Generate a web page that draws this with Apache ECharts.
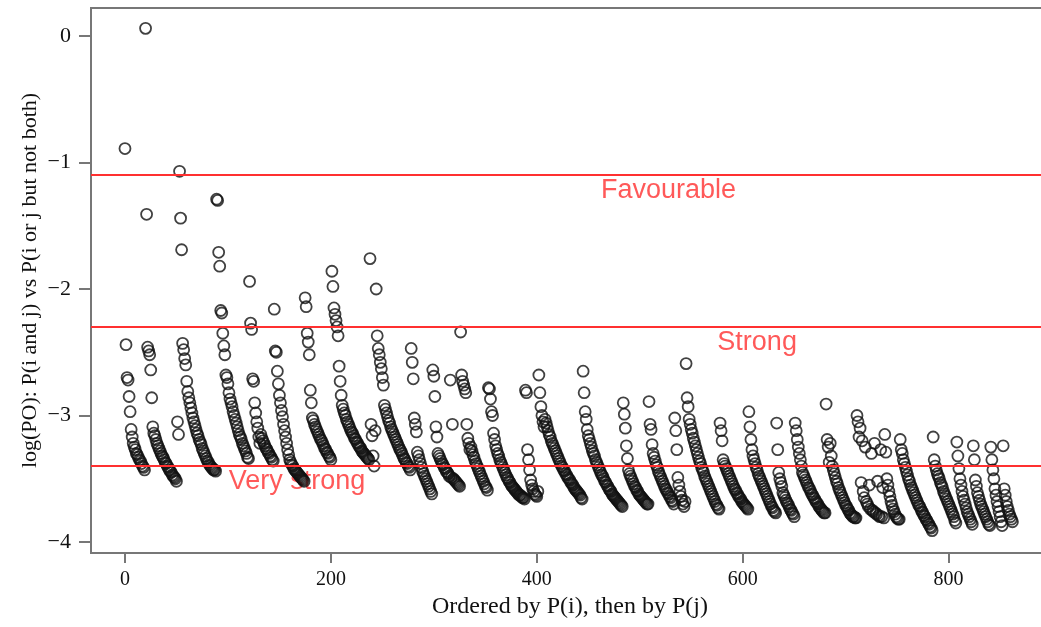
<!DOCTYPE html>
<html>
<head>
<meta charset="utf-8">
<script src="https://cdn.jsdelivr.net/npm/echarts@6/dist/echarts.min.js"></script>
<style>
html,body{margin:0;padding:0;background:#fff;}
#chart{width:1041px;height:627px;}
</style>
</head>
<body>
<div id="chart"></div>
<script>
// y values (log PO), in plotting order; x = position in the ordering
const group01 = [-0.89,-2.44,-2.70,-2.72,-2.85,-2.97,-3.11,-3.17,-3.22,-3.25,-3.27,-3.30,-3.31,-3.33,-3.35,-3.36,-3.38,-3.40,-3.41,-3.43];
const group02 = [0.06,-1.41,-2.46,-2.49,-2.52,-2.64,-2.86,-3.09,-3.14,-3.16,-3.19,-3.22,-3.24,-3.26,-3.28,-3.30,-3.32,-3.33,-3.35,-3.37,-3.38,-3.40,-3.41,-3.43,-3.44,-3.45,-3.47,-3.48,-3.49,-3.50,-3.52];
const group03 = [-3.05,-3.15,-1.07,-1.44,-1.69,-2.43,-2.48,-2.55,-2.60,-2.73,-2.81,-2.86,-2.90,-2.94,-2.98,-3.02,-3.05,-3.08,-3.11,-3.14,-3.16,-3.19,-3.21,-3.23,-3.26,-3.28,-3.30,-3.32,-3.34,-3.36,-3.37,-3.39,-3.40,-3.41,-3.42,-3.43,-3.43,-3.44];
const group04 = [-1.29,-1.30,-1.71,-1.82,-2.17,-2.19,-2.35,-2.45,-2.52,-2.68,-2.70,-2.75,-2.82,-2.87,-2.90,-2.93,-2.97,-3.00,-3.03,-3.06,-3.09,-3.12,-3.15,-3.17,-3.19,-3.22,-3.24,-3.26,-3.28,-3.30,-3.33,-3.34];
const group05 = [-1.94,-2.27,-2.32,-2.71,-2.73,-2.90,-2.98,-3.05,-3.10,-3.17,-3.22,-3.15,-3.18,-3.20,-3.22,-3.24,-3.26,-3.27,-3.29,-3.30,-3.32,-3.33,-3.35,-3.36];
const group06 = [-2.16,-2.49,-2.50,-2.65,-2.75,-2.84,-2.90,-2.96,-3.01,-3.07,-3.12,-3.17,-3.22,-3.27,-3.31,-3.35,-3.37,-3.39,-3.40,-3.42,-3.43,-3.44,-3.45,-3.46,-3.47,-3.48,-3.49,-3.50,-3.51,-3.52];
const group07 = [-2.07,-2.14,-2.35,-2.42,-2.52,-2.80,-2.90,-3.02,-3.04,-3.07,-3.09,-3.11,-3.13,-3.15,-3.17,-3.19,-3.20,-3.22,-3.24,-3.26,-3.27,-3.29,-3.30,-3.32,-3.33,-3.35];
const group08 = [-1.86,-1.98,-2.15,-2.20,-2.25,-2.30,-2.37,-2.61,-2.73,-2.84,-2.92,-2.95,-2.98,-3.00,-3.03,-3.05,-3.07,-3.09,-3.11,-3.13,-3.14,-3.16,-3.18,-3.19,-3.21,-3.22,-3.24,-3.25,-3.26,-3.28,-3.29,-3.30,-3.31,-3.32,-3.33,-3.34,-3.35];
const group09 = [-1.76,-3.07,-3.16,-3.32,-3.40,-3.12,-2.00,-2.37,-2.47,-2.52,-2.58,-2.63,-2.70,-2.76,-2.92,-2.95,-2.98,-3.01,-3.04,-3.06,-3.09,-3.11,-3.13,-3.15,-3.17,-3.19,-3.21,-3.23,-3.25,-3.27,-3.28,-3.30,-3.32,-3.34,-3.35,-3.37,-3.38,-3.40,-3.41,-3.43];
const group10 = [-2.47,-2.58,-2.71,-3.02,-3.07,-3.13,-3.29,-3.32,-3.35,-3.38,-3.41,-3.44,-3.46,-3.48,-3.50,-3.52,-3.54,-3.56,-3.58,-3.60,-3.62];
const group11 = [-2.64,-2.69,-2.85,-3.09,-3.17,-3.30,-3.32,-3.34,-3.36,-3.38,-3.39,-3.41,-3.42,-3.44,-3.45,-3.46,-3.48,-2.72,-3.49,-3.07,-3.50,-3.51,-3.52,-3.53,-3.54,-3.55,-3.56];
const group12 = [-2.34,-2.68,-2.73,-2.76,-2.79,-2.82,-3.07,-3.18,-3.22,-3.27,-3.25,-3.28,-3.31,-3.33,-3.36,-3.38,-3.40,-3.42,-3.44,-3.46,-3.48,-3.50,-3.52,-3.54,-3.56,-3.57,-3.59];
const group13 = [-2.78,-2.79,-2.87,-2.97,-3.00,-3.14,-3.19,-3.24,-3.27,-3.30,-3.32,-3.35,-3.37,-3.39,-3.41,-3.43,-3.45,-3.47,-3.49,-3.50,-3.52,-3.53,-3.55,-3.56,-3.57,-3.58,-3.59,-3.60,-3.61,-3.62,-3.63,-3.63,-3.64,-3.65,-3.65,-3.66];
const group14 = [-2.80,-2.82,-3.27,-3.35,-3.43,-3.51,-3.55,-3.58,-3.60,-3.62,-3.63,-3.64,-3.60];
const group15 = [-2.68,-2.82,-2.93,-3.00,-3.05,-3.09,-3.03,-3.06,-3.09,-3.12,-3.15,-3.17,-3.20,-3.22,-3.24,-3.26,-3.28,-3.30,-3.32,-3.34,-3.36,-3.38,-3.40,-3.41,-3.43,-3.44,-3.46,-3.47,-3.49,-3.50,-3.51,-3.53,-3.54,-3.55,-3.57,-3.58,-3.59,-3.60,-3.61,-3.62,-3.63,-3.65,-3.66];
const group16 = [-2.65,-2.82,-2.97,-3.03,-3.11,-3.16,-3.19,-3.22,-3.25,-3.28,-3.30,-3.32,-3.35,-3.37,-3.39,-3.41,-3.43,-3.45,-3.47,-3.48,-3.50,-3.52,-3.53,-3.55,-3.56,-3.58,-3.59,-3.60,-3.62,-3.63,-3.64,-3.65,-3.66,-3.67,-3.68,-3.69,-3.70,-3.71,-3.72];
const group17 = [-2.90,-2.99,-3.10,-3.24,-3.34,-3.43,-3.46,-3.48,-3.50,-3.52,-3.54,-3.56,-3.57,-3.59,-3.60,-3.62,-3.63,-3.64,-3.65,-3.66,-3.67,-3.68,-3.69,-3.70,-3.70];
const group18 = [-2.89,-3.07,-3.11,-3.23,-3.30,-3.33,-3.36,-3.39,-3.41,-3.44,-3.46,-3.48,-3.50,-3.52,-3.54,-3.56,-3.58,-3.59,-3.61,-3.62,-3.64,-3.65,-3.67,-3.68,-3.70];
const group19 = [-3.02,-3.12,-3.27,-3.49,-3.55,-3.60,-3.64,-3.67,-3.70,-3.72,-3.68];
const group20 = [-2.59,-2.86,-2.93,-3.03,-3.07,-3.11,-3.14,-3.18,-3.21,-3.24,-3.27,-3.30,-3.33,-3.36,-3.38,-3.41,-3.43,-3.45,-3.48,-3.50,-3.52,-3.54,-3.56,-3.58,-3.60,-3.62,-3.64,-3.66,-3.68,-3.70,-3.71,-3.73,-3.74];
const group21 = [-3.06,-3.12,-3.20,-3.35,-3.38,-3.40,-3.42,-3.44,-3.46,-3.48,-3.50,-3.52,-3.54,-3.56,-3.58,-3.59,-3.61,-3.62,-3.64,-3.65,-3.66,-3.68,-3.69,-3.70,-3.71,-3.72,-3.73,-3.74];
const group22 = [-2.97,-3.09,-3.19,-3.27,-3.32,-3.35,-3.38,-3.41,-3.43,-3.46,-3.48,-3.50,-3.52,-3.54,-3.56,-3.58,-3.60,-3.62,-3.64,-3.66,-3.68,-3.70,-3.72,-3.73,-3.75,-3.76,-3.77];
const group23 = [-3.06,-3.27,-3.45,-3.50,-3.53,-3.56,-3.61,-3.63,-3.65,-3.67,-3.69,-3.70,-3.72,-3.74,-3.75,-3.77,-3.78,-3.80];
const group24 = [-3.06,-3.12,-3.19,-3.25,-3.30,-3.35,-3.40,-3.45,-3.47,-3.49,-3.51,-3.53,-3.55,-3.57,-3.58,-3.60,-3.62,-3.63,-3.65,-3.66,-3.68,-3.69,-3.70,-3.72,-3.73,-3.74,-3.75,-3.76,-3.77,-3.77];
const group25 = [-2.91,-3.19,-3.25,-3.37,-3.22,-3.32,-3.40,-3.43,-3.46,-3.49,-3.52,-3.54,-3.57,-3.59,-3.61,-3.63,-3.65,-3.67,-3.69,-3.71,-3.72,-3.74,-3.75,-3.77,-3.78,-3.79,-3.80,-3.80,-3.81,-3.81];
const group26 = [-3.00,-3.05,-3.17,-3.10,-3.53,-3.20,-3.60,-3.65,-3.25,-3.68,-3.70,-3.72,-3.55,-3.74,-3.30,-3.75,-3.76,-3.22,-3.77,-3.78,-3.52,-3.79,-3.80,-3.27,-3.80,-3.57,-3.81,-3.15,-3.29,-3.50,-3.55,-3.60,-3.64,-3.68,-3.71,-3.74,-3.76,-3.78,-3.80,-3.81,-3.82,-3.82];
const group27 = [-3.19,-3.27,-3.30,-3.35,-3.38,-3.41,-3.44,-3.47,-3.50,-3.52,-3.55,-3.57,-3.59,-3.61,-3.63,-3.65,-3.67,-3.69,-3.71,-3.72,-3.74,-3.76,-3.77,-3.79,-3.80,-3.82,-3.83,-3.85,-3.86,-3.88,-3.89,-3.91];
const group28 = [-3.17,-3.35,-3.40,-3.43,-3.46,-3.48,-3.50,-3.53,-3.55,-3.57,-3.60,-3.62,-3.64,-3.66,-3.68,-3.70,-3.72,-3.74,-3.76,-3.78,-3.80,-3.83,-3.85];
const group29 = [-3.21,-3.32,-3.42,-3.50,-3.55,-3.60,-3.64,-3.67,-3.70,-3.73,-3.76,-3.78,-3.80,-3.82,-3.84,-3.86];
const group30 = [-3.24,-3.35,-3.51,-3.56,-3.61,-3.64,-3.67,-3.70,-3.72,-3.74,-3.76,-3.78,-3.80,-3.82,-3.84,-3.86,-3.87];
const group31 = [-3.25,-3.35,-3.43,-3.50,-3.58,-3.63,-3.68,-3.72,-3.76,-3.80,-3.84,-3.87];
const group32 = [-3.24,-3.58,-3.63,-3.68,-3.72,-3.75,-3.78,-3.80,-3.82,-3.84];

const xTicks = [0, 200, 400, 600, 800];
const yTicks = [0, -1, -2, -3, -4];

// threshold lines and their labels
const thresholdValues = [-1.1, -2.3, -3.4];
const thresholdNames = ['Favourable', 'Strong', 'Very strong'];
const thresholdLabelX = [528, 614, 167];
const thresholdLabelY = [-1.22, -2.42, -3.52];

const groups = [group01,group02,group03,group04,group05,group06,group07,group08,group09,group10,
  group11,group12,group13,group14,group15,group16,group17,group18,group19,group20,
  group21,group22,group23,group24,group25,group26,group27,group28,group29,group30,group31,group32];
const points = [];
groups.forEach(g => g.forEach(v => points.push([points.length, v])));

const labelData = thresholdNames.map((n, i) => [thresholdLabelX[i], thresholdLabelY[i], n]);

const fmtMinus = v => (v < 0 ? '\u2212' + Math.abs(v) : String(v));
const axisGray = '#777777';
const red = '#ff3030';

const chart = echarts.init(document.getElementById('chart'), null, {renderer: 'canvas'});
chart.setOption({
  animation: false,
  backgroundColor: '#ffffff',
  grid: {left: 91, right: -8, top: 8, bottom: 74, show: true, borderColor: axisGray, borderWidth: 2,
         containLabel: false, outerBoundsMode: 'none'},
  xAxis: {
    type: 'value', min: -33, max: 897.5,
    name: 'Ordered by P(i), then by P(j)', nameLocation: 'middle', nameGap: 42, nameMoveOverlap: false,
    nameTextStyle: {fontFamily: 'Liberation Serif', fontSize: 24, color: '#111'},
    axisLine: {show: true, onZero: false, lineStyle: {color: axisGray, width: 2}},
    axisTick: {show: true, customValues: xTicks, length: 10, lineStyle: {color: axisGray, width: 2}},
    axisLabel: {customValues: xTicks, margin: 17, fontFamily: 'Liberation Serif', fontSize: 20, color: '#111'},
    splitLine: {show: false}
  },
  yAxis: {
    type: 'value', min: -4.087, max: 0.221,
    name: 'log(PO): P(i and j) vs P(i or j but not both)', nameLocation: 'middle', nameGap: 50, nameRotate: 90,
    nameMoveOverlap: false,
    nameTextStyle: {fontFamily: 'Liberation Serif', fontSize: 22, color: '#111'},
    axisLine: {show: true, onZero: false, lineStyle: {color: axisGray, width: 2}},
    axisTick: {show: true, customValues: yTicks, length: 12, lineStyle: {color: axisGray, width: 2}},
    axisLabel: {customValues: yTicks, margin: 20, formatter: fmtMinus, fontFamily: 'Liberation Serif', fontSize: 22, color: '#111'},
    splitLine: {show: false}
  },
  series: [
    {
      type: 'scatter', name: 'labels', data: labelData, symbolSize: 0, silent: true, z: 1,
      label: {show: true, position: 'inside', formatter: p => p.data[2], fontFamily: 'Liberation Sans', fontSize: 27, color: red},
      markLine: {
        silent: true, symbol: ['none', 'none'],
        lineStyle: {color: red, width: 2, type: 'solid'},
        label: {show: false},
        data: thresholdValues.map(v => ({yAxis: v}))
      }
    },
    {
      type: 'scatter', name: 'pairs', data: points, symbol: 'circle', symbolSize: 11, z: 3,
      itemStyle: {color: 'rgba(0,0,0,0)', borderColor: '#111111', borderWidth: 1.8}
    }
  ]
});
</script>
</body>
</html>
